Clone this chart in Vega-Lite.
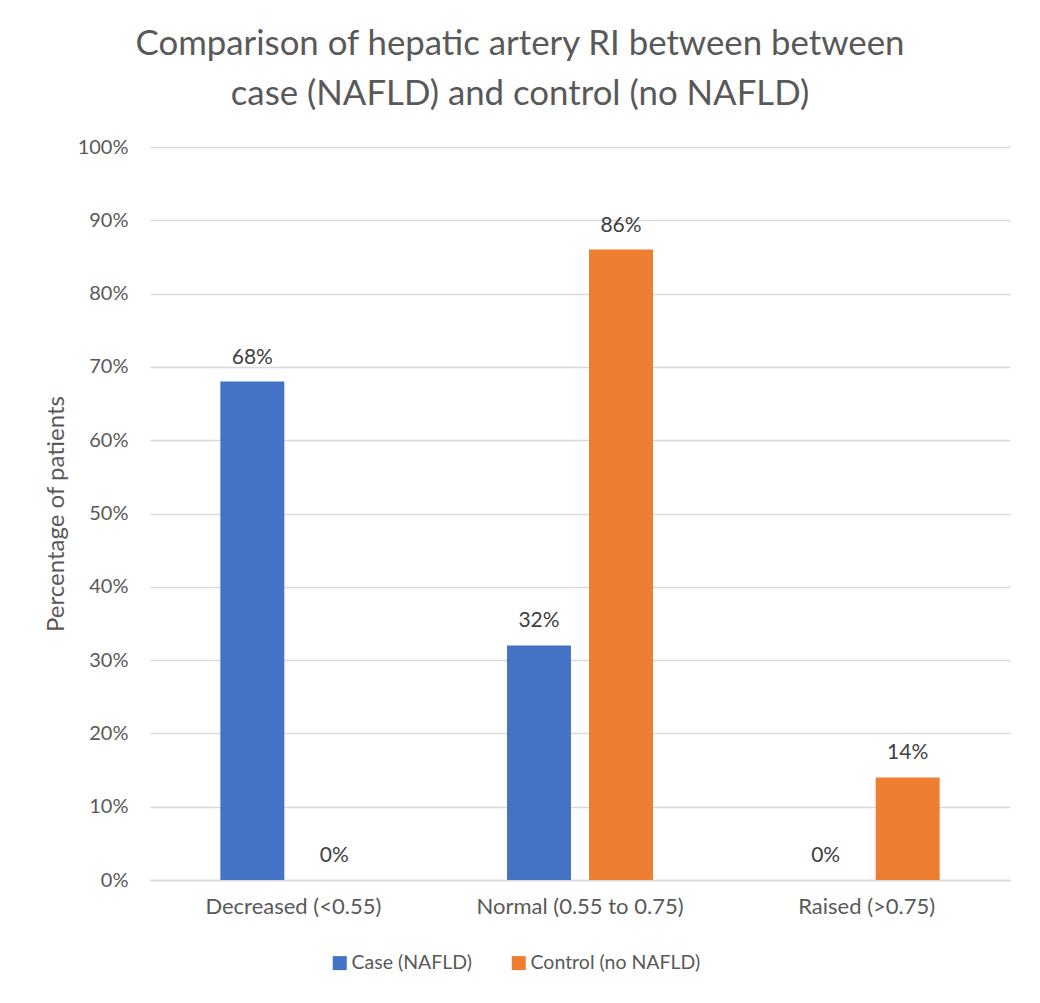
{
  "$schema": "https://vega.github.io/schema/vega-lite/v6.json",
  "width": 860,
  "height": 733,
  "autosize": "none",
  "padding": {"left": 150, "top": 147, "right": 30, "bottom": 123},
  "background": "white",
  "config": {
    "view": {"stroke": null},
    "font": "Lato"
  },
  "title": {
    "text": ["Comparison of hepatic artery RI between between", "case (NAFLD) and control (no NAFLD)"],
    "font": "Lato",
    "fontSize": 34.8,
    "fontWeight": "normal",
    "color": "#595959",
    "lineHeight": 50,
    "anchor": "middle",
    "dx": -60,
    "offset": 24
  },
  "data": {
    "values": [
      {"category": "Decreased (<0.55)", "group": "Case (NAFLD)", "value": 0.68},
      {"category": "Decreased (<0.55)", "group": "Control (no NAFLD)", "value": 0.0},
      {"category": "Normal (0.55 to 0.75)", "group": "Case (NAFLD)", "value": 0.32},
      {"category": "Normal (0.55 to 0.75)", "group": "Control (no NAFLD)", "value": 0.86},
      {"category": "Raised (>0.75)", "group": "Case (NAFLD)", "value": 0.0},
      {"category": "Raised (>0.75)", "group": "Control (no NAFLD)", "value": 0.14}
    ]
  },
  "encoding": {
    "x": {
      "field": "category",
      "type": "nominal",
      "sort": ["Decreased (<0.55)", "Normal (0.55 to 0.75)", "Raised (>0.75)"],
      "scale": {"paddingInner": 0, "paddingOuter": 0},
      "axis": {
        "title": null,
        "labelAngle": 0,
        "ticks": false,
        "domainColor": "#d9d9d9",
        "domainWidth": 1.5,
        "labelFont": "Lato",
        "labelFontSize": 22,
        "labelColor": "#595959",
        "labelPadding": 16,
        "labelLimit": 0
      }
    },
    "xOffset": {
      "field": "group",
      "type": "nominal",
      "sort": ["Case (NAFLD)", "Control (no NAFLD)"],
      "scale": {"paddingInner": 0.22, "paddingOuter": 0.858}
    },
    "y": {
      "field": "value",
      "type": "quantitative",
      "scale": {"domain": [0, 1], "nice": false},
      "axis": {
        "values": [0, 0.1, 0.2, 0.3, 0.4, 0.5, 0.6, 0.7, 0.8, 0.9, 1],
        "format": ".0%",
        "grid": true,
        "gridColor": "#d9d9d9",
        "gridWidth": 1.3,
        "domain": false,
        "ticks": false,
        "labelFont": "Lato",
        "labelFontSize": 20,
        "labelColor": "#595959",
        "labelPadding": 22,
        "title": "Percentage of patients",
        "titleFont": "Lato",
        "titleFontSize": 24,
        "titleFontWeight": "normal",
        "titleColor": "#595959",
        "titlePadding": 9
      }
    },
    "color": {
      "field": "group",
      "type": "nominal",
      "scale": {
        "domain": ["Case (NAFLD)", "Control (no NAFLD)"],
        "range": ["#4472C4", "#ED7D31"]
      },
      "legend": {
        "title": null,
        "orient": "none",
        "direction": "horizontal",
        "legendX": 180,
        "legendY": 806,
        "padding": 0,
        "symbolType": "square",
        "symbolSize": 196,
        "symbolStrokeWidth": 0,
        "labelFont": "Lato",
        "labelFontSize": 19.5,
        "labelColor": "#595959",
        "labelOffset": 2,
        "labelLimit": 0,
        "columnPadding": 37
      }
    }
  },
  "layer": [
    {"mark": {"type": "bar"}},
    {
      "mark": {
        "type": "text",
        "baseline": "alphabetic",
        "dy": -18,
        "fontSize": 21,
        "font": "Lato",
        "color": "#404040"
      },
      "encoding": {
        "text": {"field": "value", "type": "quantitative", "format": ".0%"},
        "color": {"value": "#404040"}
      }
    }
  ]
}
